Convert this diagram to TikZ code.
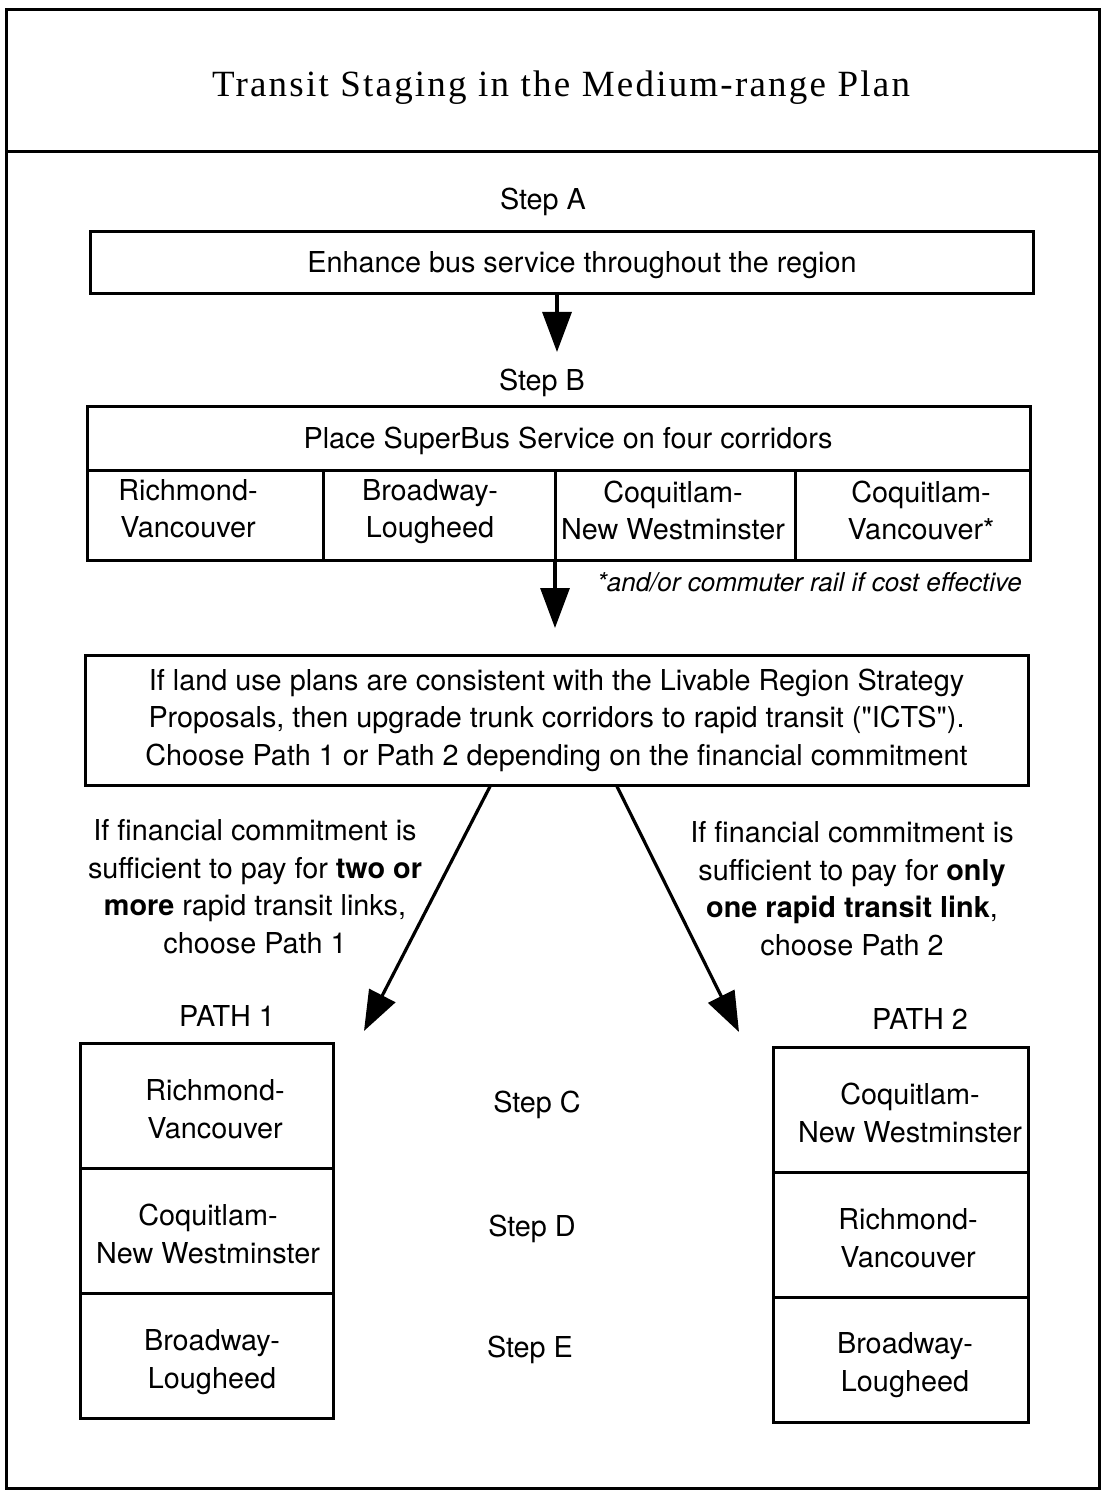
\documentclass[tikz,border=0pt]{standalone}
\usepackage{fontspec}
\setmainfont{TeX Gyre Heros}[Ligatures=TeXOff]
\newfontfamily\titlefont{Liberation Serif}[LetterSpace=6]
\usetikzlibrary{arrows.meta}
\begin{document}
\begin{tikzpicture}[x=1pt,y=-1pt,
  txt/.style={font=\fontsize{28.8}{37.5}\selectfont, align=center, inner sep=0pt,
    execute at begin node=\strut, execute at end node=\strut},
  box/.style={draw, line width=3pt, inner sep=0pt, font=\fontsize{28.8}{37.5}\selectfont, align=center},
  arr/.style={line width=3.2pt, -{Triangle[length=40pt,width=29pt]}},
  rulel/.style={line width=3pt}]
\useasboundingbox (0,0) rectangle (1102,1495);
% frame
\draw[rulel] (6,10) rectangle (1099,1488);
\draw[rulel] (6,152) -- (1099,152);
\node[font=\titlefont\fontsize{37}{42}\selectfont, anchor=base, inner sep=0pt] (title) at (561,97) {Transit Staging in the Medium-range Plan};
% step A
\node[txt] (stepA) at (543,202.5) {Step A};
\node[box, minimum width=943pt, minimum height=62pt] (boxA) at (561.5,263) {};
\node[txt] (tA) at (582,265.5) {Enhance bus service throughout the region};
\coordinate (tipA) at (557,352);
\draw[arr] ([xshift=-4.5pt]boxA.south) -- (tipA);
% step B
\node[txt] (stepB) at (542,382.5) {Step B};
\node[box, minimum width=943pt, minimum height=154pt] (boxB) at (558.5,483) {};
\draw[rulel] (87,470) -- (1030,470);
\draw[rulel] (323,470) -- (323,560);
\draw[rulel] (555,470) -- (555,560);
\draw[rulel] (795,470) -- (795,560);
\node[txt] (tB) at (568,440.5) {Place SuperBus Service on four corridors};
\node[txt] (b1) at (188,514) {Richmond-\\Vancouver};
\node[txt] (b2) at (430,514) {Broadway-\\Lougheed};
\node[txt] (b3) at (673,516) {Coquitlam-\\New Westminster};
\node[txt] (b4) at (921,516) {Coquitlam-\\Vancouver*};
\node[font=\fontsize{26}{30}\selectfont\itshape, anchor=east, inner sep=0pt] (note) at (1022,582) {*and/or commuter rail if cost effective};
\coordinate (tipB) at (555,628);
\draw[arr] ([xshift=-3.5pt]boxB.south) -- (tipB);
% box C
\node[box, minimum width=943pt, minimum height=130pt] (boxC) at (556.5,720) {If land use plans are consistent with the Livable Region Strategy\\Proposals, then upgrade trunk corridors to rapid transit ("ICTS").\\Choose Path 1 or Path 2 depending on the financial commitment};
\coordinate (tip1) at (364,1031);
\coordinate (tip2) at (739,1032);
\draw[arr] ([xshift=-66.5pt]boxC.south) -- (tip1);
\draw[arr] ([xshift=60.5pt]boxC.south) -- (tip2);
\node[txt] (cond1) at (255,892) {If financial commitment is\\sufficient to pay for \textbf{two or}\\\textbf{more} rapid transit links,\\choose Path 1};
\node[txt] (cond2) at (852,894) {If financial commitment is\\sufficient to pay for \textbf{only}\\\textbf{one rapid transit link},\\choose Path 2};
\node[txt] (path1) at (227,1018.5) {PATH 1};
\node[txt] (path2) at (920,1021.5) {PATH 2};
% path 1
\node[box, minimum width=253pt, minimum height=125pt] (p1a) at (206.5,1105.5) {};
\node[box, minimum width=253pt, minimum height=125pt] (p1b) at (206.5,1230.5) {};
\node[box, minimum width=253pt, minimum height=125pt] (p1c) at (206.5,1355.5) {};
\node[txt] (t1a) at (215,1114.5) {Richmond-\\Vancouver};
\node[txt] (t1b) at (208,1239.5) {Coquitlam-\\New Westminster};
\node[txt] (t1c) at (212,1364.5) {Broadway-\\Lougheed};
% steps
\node[txt] (stepC) at (537,1104.5) {Step C};
\node[txt] (stepD) at (532,1228.5) {Step D};
\node[txt] (stepE) at (530,1349.5) {Step E};
% path 2
\node[box, minimum width=255pt, minimum height=125pt] (p2a) at (900.5,1109.5) {};
\node[box, minimum width=255pt, minimum height=125pt] (p2b) at (900.5,1234.5) {};
\node[box, minimum width=255pt, minimum height=125pt] (p2c) at (900.5,1359.5) {};
\node[txt] (t2a) at (910,1118.5) {Coquitlam-\\New Westminster};
\node[txt] (t2b) at (908,1243.5) {Richmond-\\Vancouver};
\node[txt] (t2c) at (905,1367.5) {Broadway-\\Lougheed};
\end{tikzpicture}
\end{document}
